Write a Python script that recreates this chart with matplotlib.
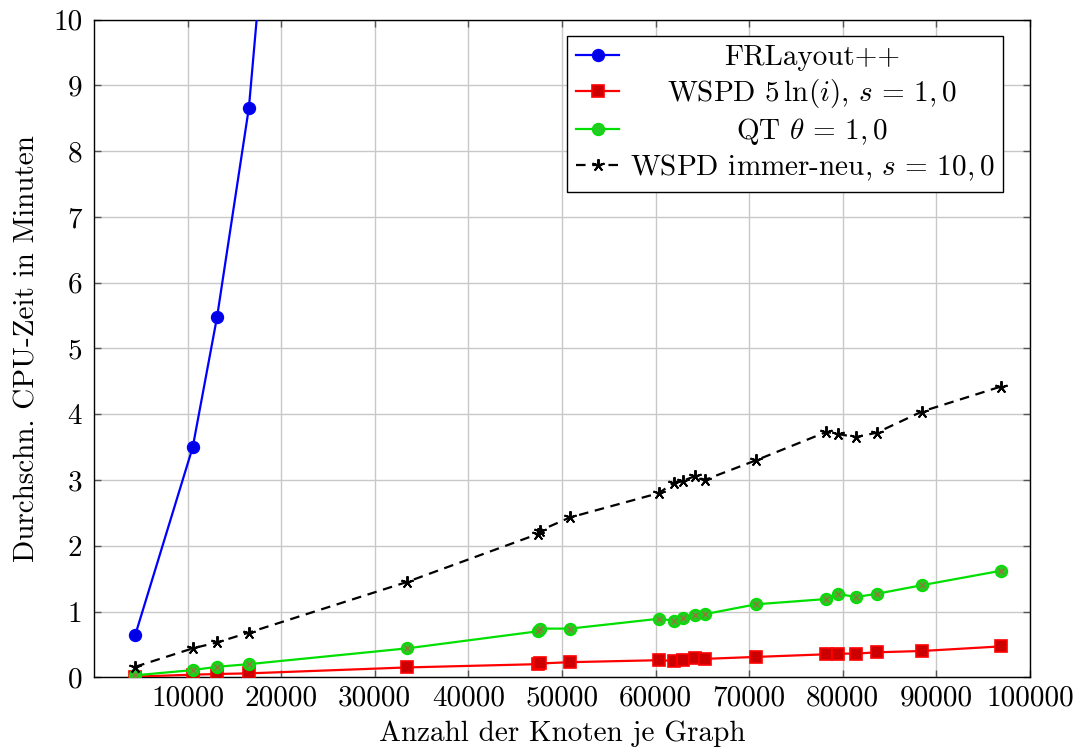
import matplotlib
matplotlib.use("Agg")
import matplotlib.pyplot as plt

# ---- data ----
n_fr = [4400, 10550, 13150, 16550, 33450]
t_fr = [0.64, 3.50, 5.48, 8.66, 36.0]

n_all = [4400, 10550, 13150, 16550, 33450, 47450, 47650, 50850, 60350, 61950,
         62950, 64250, 65250, 70750, 78250, 79450, 81400, 83650, 88450, 96900]
t_wspd = [0.01, 0.04, 0.05, 0.06, 0.15, 0.20, 0.21, 0.23, 0.26, 0.25,
          0.27, 0.30, 0.28, 0.31, 0.35, 0.36, 0.36, 0.38, 0.40, 0.47]
t_qt = [0.03, 0.11, 0.16, 0.20, 0.44, 0.70, 0.74, 0.74, 0.89, 0.86,
        0.90, 0.95, 0.96, 1.11, 1.19, 1.27, 1.22, 1.27, 1.40, 1.62]
t_new = [0.16, 0.44, 0.53, 0.68, 1.45, 2.18, 2.23, 2.43, 2.80, 2.96,
         2.99, 3.06, 3.00, 3.30, 3.73, 3.70, 3.65, 3.72, 4.04, 4.42]

labels = [r"FRLayout++",
          r"WSPD $5\,\ln(i)$, $s\,=\,1,0$",
          r"QT $\theta\,=\,1,0$",
          r"WSPD immer-neu, $s\,=\,10,0$"]

xticks = [10000, 20000, 30000, 40000, 50000, 60000, 70000, 80000, 90000, 100000]
yticks = [0, 1, 2, 3, 4, 5, 6, 7, 8, 9, 10]

# ---- style ----
plt.rcParams["font.family"] = "serif"
plt.rcParams["font.serif"] = ["cmr10", "DejaVu Serif"]
plt.rcParams["mathtext.fontset"] = "cm"
plt.rcParams["axes.unicode_minus"] = False
FS = 21

fig = plt.figure(figsize=(10.81, 7.55), dpi=100)
ax = fig.add_axes([94 / 1081, 1 - 677.3 / 755, 936 / 1081, 657.8 / 755])

ms = 8.6
ax.plot(n_fr, t_fr, color="#0000ff", lw=1.6, marker="o", ms=ms,
        mfc="#0000e6", mec="#0000ff", label=labels[0], zorder=3)
ax.plot(n_all, t_wspd, color="#ff0000", lw=1.6, marker="s", ms=ms,
        mfc="#cc0000", mec="#ff0000", mew=1.2, label=labels[1], zorder=3)
ax.plot(n_all, t_qt, color="#00e000", lw=1.6, marker="o", ms=ms,
        mfc="#22cc22", mec="#00e000", label=labels[2], zorder=3)
ax.plot(n_all, t_qt, ls="none", marker="x", ms=4, mew=1.0,
        mec="#b0603a", alpha=0.75, zorder=3.1)
ax.plot(n_all, t_new, color="black", lw=1.6, ls=(0, (4.3, 3.0)),
        marker=(5, 2, 0), ms=9, mew=1.4, mec="black",
        label=labels[3], zorder=3.2)

ax.set_xlim(0, 100000)
ax.set_ylim(0, 10)
ax.set_xticks(xticks)
ax.set_xticklabels([str(v) for v in xticks])
ax.set_yticks(yticks)
ax.set_yticklabels([str(v) for v in yticks])

ax.grid(True, color="#c8c8c8", lw=1.0, zorder=0)
ax.set_axisbelow(True)
ax.tick_params(direction="in", length=5, width=1.0, color="#555555",
               top=True, right=True, labelsize=FS)
ax.tick_params(axis="x", pad=6)
ax.tick_params(axis="y", pad=8.5)
for s in ax.spines.values():
    s.set_linewidth(1.0)
    s.set_color("black")

ax.set_xlabel("Anzahl der Knoten je Graph", fontsize=FS, labelpad=6)
ax.set_ylabel("Durchschn. CPU-Zeit in Minuten", fontsize=FS, labelpad=9)

handles, labs = ax.get_legend_handles_labels()
leg = ax.legend(handles, labs, loc="upper right",
                bbox_to_anchor=((1003 - 94) / 936, 1 - (36 - 19.5) / 657.8),
                borderaxespad=0, fontsize=FS, frameon=True, fancybox=False,
                edgecolor="black", framealpha=1, handlelength=1.5,
                handletextpad=0.35, borderpad=0.3, labelspacing=0.2)
leg.get_frame().set_linewidth(1.0)

# center the legend text as pgfplots does
fig.canvas.draw()
r = fig.canvas.get_renderer()
texts = leg.get_texts()
ws = [t.get_window_extent(r).width for t in texts]
mw = max(ws)
for t, w in zip(texts, ws):
    t.set_x((mw - w) / 2)

fig.savefig("out.png", dpi=100)
